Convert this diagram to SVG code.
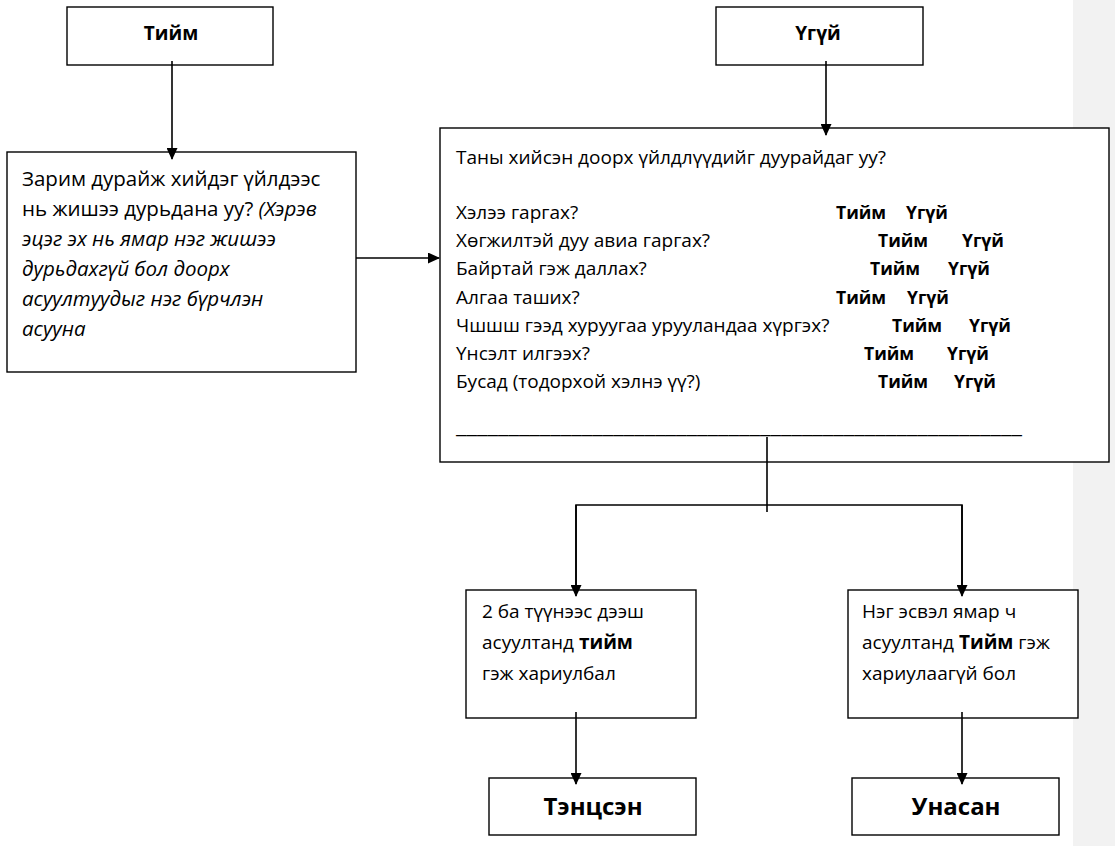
<svg xmlns="http://www.w3.org/2000/svg" width="1115" height="846" viewBox="0 0 1115 846">
<defs>
<style>
.box{fill:#fff;stroke:#000;stroke-width:1.4}
.t{font-family:"Open Sans","Noto Sans","DejaVu Sans",sans-serif;font-size:19px;fill:#000}
.tl{font-family:"Open Sans","Noto Sans","DejaVu Sans",sans-serif;font-size:20.5px;fill:#000}
.i{font-style:italic}
.b{font-weight:bold}
.lbl{font-family:"Open Sans","Noto Sans","DejaVu Sans",sans-serif;font-size:19px;font-weight:bold;fill:#000}
.yn{font-family:"Open Sans","Noto Sans","DejaVu Sans",sans-serif;font-size:17.5px;font-weight:bold;fill:#000}
.big{font-family:"Open Sans","Noto Sans","DejaVu Sans",sans-serif;font-size:24px;font-weight:bold;fill:#000}
.c{fill:none;stroke:#000;stroke-width:1.6}
</style>
<marker id="ah" viewBox="0 0 12 11" refX="11" refY="5.5" markerWidth="12" markerHeight="11" markerUnits="userSpaceOnUse" orient="auto">
<path d="M0,0 L12,5.5 L0,11 z" fill="#000"/>
</marker>
</defs>
<rect x="1073" y="0" width="42" height="846" fill="#f2f2f2"/>

<g id="n1">
<rect class="box" x="67" y="7" width="206" height="58"/>
<text class="lbl" x="171" y="40" text-anchor="middle">Тийм</text>
</g>
<g id="n2">
<rect class="box" x="716" y="7" width="207" height="58"/>
<text class="lbl" x="818" y="40" text-anchor="middle">Үгүй</text>
</g>
<g id="n3">
<rect class="box" x="7" y="152" width="349" height="220"/>
<text class="tl" x="22" y="186">Зарим дурайж хийдэг үйлдээс</text>
<text class="tl" x="22" y="216">нь жишээ дурьдана уу? <tspan class="i">(Хэрэв</tspan></text>
<text class="tl i" x="22" y="246">эцэг эх нь ямар нэг жишээ</text>
<text class="tl i" x="22" y="276">дурьдахгүй бол доорх</text>
<text class="tl i" x="22" y="306">асуултуудыг нэг бүрчлэн</text>
<text class="tl i" x="22" y="336">асууна</text>
</g>
<g id="n4">
<rect class="box" x="440" y="128" width="669" height="334"/>
<text class="t" x="456" y="164">Таны хийсэн доорх үйлдлүүдийг дуурайдаг уу?</text>
<text class="t" x="456" y="219">Хэлээ гаргах?</text>
<text class="t" x="456" y="247">Хөгжилтэй дуу авиа гаргах?</text>
<text class="t" x="456" y="275">Байртай гэж даллах?</text>
<text class="t" x="456" y="304">Алгаа таших?</text>
<text class="t" x="456" y="332">Чшшш гээд хуруугаа урууландаа хүргэх?</text>
<text class="t" x="456" y="360">Үнсэлт илгээх?</text>
<text class="t" x="456" y="388">Бусад (тодорхой хэлнэ үү?)</text>
<text class="yn" x="836" y="219">Тийм</text><text class="yn" x="906" y="219">Үгүй</text>
<text class="yn" x="878" y="247">Тийм</text><text class="yn" x="962" y="247">Үгүй</text>
<text class="yn" x="870" y="275">Тийм</text><text class="yn" x="948" y="275">Үгүй</text>
<text class="yn" x="836" y="304">Тийм</text><text class="yn" x="907" y="304">Үгүй</text>
<text class="yn" x="892" y="332">Тийм</text><text class="yn" x="969" y="332">Үгүй</text>
<text class="yn" x="864" y="360">Тийм</text><text class="yn" x="947" y="360">Үгүй</text>
<text class="yn" x="878" y="388">Тийм</text><text class="yn" x="954" y="388">Үгүй</text>
<text class="t" x="456" y="433" textLength="566" lengthAdjust="spacingAndGlyphs">______________________________________________________</text>
</g>
<g id="n5">
<rect class="box" x="466" y="590" width="230" height="128"/>
<text class="t" x="482" y="618" font-size="20px">2 ба түүнээс дээш</text>
<text class="t" x="482" y="649" font-size="20px">асуултанд <tspan class="b">тийм</tspan></text>
<text class="t" x="482" y="680" font-size="20px">гэж хариулбал</text>
</g>
<g id="n6">
<rect class="box" x="848" y="590" width="230" height="128"/>
<text class="t" x="862" y="618" font-size="20px">Нэг эсвэл ямар ч</text>
<text class="t" x="862" y="649" font-size="20px">асуултанд <tspan class="b">Тийм</tspan> гэж</text>
<text class="t" x="862" y="680" font-size="20px">хариулаагүй бол</text>
</g>
<g id="n7">
<rect class="box" x="489" y="778" width="207" height="57"/>
<text class="big" x="593" y="815" text-anchor="middle">Тэнцсэн</text>
</g>
<g id="n8">
<rect class="box" x="852" y="778" width="207" height="57"/>
<text class="big" x="956" y="815" text-anchor="middle">Унасан</text>
</g>

<g id="connectors">
<line class="c" x1="172" y1="61" x2="172" y2="159" marker-end="url(#ah)"/>
<line class="c" x1="826" y1="61" x2="826" y2="135" marker-end="url(#ah)"/>
<line class="c" x1="356" y1="258" x2="439" y2="258" marker-end="url(#ah)"/>
<line class="c" x1="767" y1="437" x2="767" y2="512"/>
<polyline class="c" points="576,590 576,505 962,505 962,590"/>
<line class="c" x1="576" y1="505" x2="576" y2="596" marker-end="url(#ah)"/>
<line class="c" x1="962" y1="505" x2="962" y2="596" marker-end="url(#ah)"/>
<line class="c" x1="576" y1="712" x2="576" y2="784" marker-end="url(#ah)"/>
<line class="c" x1="962" y1="712" x2="962" y2="784" marker-end="url(#ah)"/>
</g>
</svg>
